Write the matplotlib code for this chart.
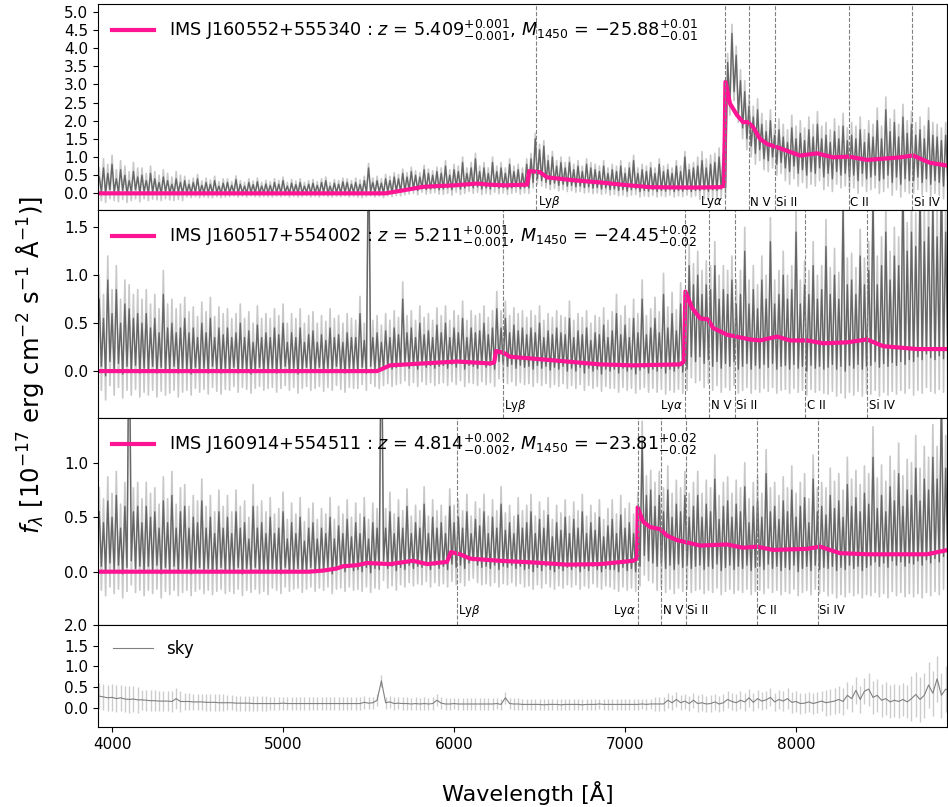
import matplotlib.pyplot as plt
import numpy as np

# binned wavelength grid (25 A steps), 200 points
wave = np.arange(3925, 8901, 25)

# ---- IMS J160552+555340 : upper / lower edge of the dark spectrum in each bin ----
hi_a = [0.45, 0.70, 0.55, 0.80, 0.40, 0.65, 0.50, 0.35, 0.60, 0.45,
        0.50, 0.35, 0.55, 0.40, 0.30, 0.45, 0.35, 0.25, 0.40, 0.30,
        0.35, 0.25, 0.30, 0.40, 0.22, 0.30, 0.25, 0.35, 0.20, 0.28,
        0.30, 0.22, 0.38, 0.25, 0.20, 0.30, 0.24, 0.32, 0.20, 0.26,
        0.22, 0.30, 0.25, 0.35, 0.20, 0.28, 0.24, 0.30, 0.20, 0.25,
        0.28, 0.22, 0.30, 0.35, 0.20, 0.28, 0.25, 0.32, 0.30, 0.25,
        0.30, 0.25, 0.35, 0.70, 0.30, 0.35, 0.28, 0.40, 0.35, 0.45,
        0.40, 0.55, 0.45, 0.60, 0.50, 0.45, 0.65, 0.55, 0.50, 0.60,
        0.55, 0.75, 0.50, 0.65, 0.60, 0.85, 0.55, 0.70, 0.95, 0.60,
        0.70, 0.55, 0.85, 0.60, 0.70, 0.55, 0.80, 0.60, 0.65, 0.55,
        0.80, 0.95, 1.50, 1.20, 1.30, 0.90, 1.00, 0.75, 0.85, 0.70,
        0.85, 0.65, 0.75, 0.60, 0.80, 0.70, 0.65, 0.60, 0.75, 0.55,
        0.65, 0.60, 0.75, 0.55, 0.70, 0.90, 0.55, 0.65, 0.60, 0.70,
        0.55, 0.80, 0.60, 0.65, 0.55, 0.75, 0.60, 1.00, 0.65, 0.70,
        0.75, 0.90, 0.70, 0.80, 0.85, 1.00, 1.10, 3.60, 4.40, 3.80,
        3.10, 2.80, 2.40, 2.10, 2.30, 1.90, 1.70, 2.00, 1.60, 1.75,
        1.55, 1.40, 1.80, 1.50, 1.65, 1.45, 1.75, 1.55, 1.90, 1.50,
        1.60, 1.40, 1.70, 1.50, 1.85, 1.45, 1.60, 1.50, 1.75, 1.40,
        1.65, 1.55, 2.00, 1.50, 2.30, 1.70, 1.95, 1.55, 2.10, 1.65,
        1.90, 1.60, 1.75, 1.50, 2.00, 1.60, 1.55, 1.45, 1.60, 1.40]
lo_a = [0.05, 0.00, 0.10, 0.05, 0.02, 0.08, 0.00, 0.05, 0.10, 0.02,
        0.05, 0.00, 0.04, 0.02, 0.00, 0.05, 0.02, 0.00, 0.03, 0.00,
        0.02, 0.00, 0.03, 0.00, 0.02, 0.01, 0.00, 0.03, 0.00, 0.02,
        0.01, 0.03, 0.00, 0.02, 0.00, 0.03, 0.01, 0.00, 0.02, 0.01,
        0.00, 0.02, 0.01, 0.03, 0.00, 0.02, 0.00, 0.01, 0.03, 0.00,
        0.02, 0.00, 0.03, 0.01, 0.00, 0.02, 0.01, 0.03, 0.00, 0.02,
        0.02, 0.00, 0.03, 0.05, 0.02, 0.04, 0.00, 0.05, 0.03, 0.06,
        0.05, 0.08, 0.10, 0.12, 0.08, 0.15, 0.10, 0.12, 0.14, 0.10,
        0.12, 0.15, 0.10, 0.18, 0.12, 0.15, 0.20, 0.15, 0.18, 0.12,
        0.15, 0.12, 0.18, 0.14, 0.16, 0.12, 0.15, 0.18, 0.13, 0.16,
        0.15, 0.30, 0.40, 0.35, 0.30, 0.25, 0.28, 0.22, 0.25, 0.20,
        0.22, 0.18, 0.20, 0.16, 0.18, 0.14, 0.16, 0.12, 0.15, 0.10,
        0.12, 0.08, 0.10, 0.06, 0.10, 0.12, 0.05, 0.08, 0.06, 0.10,
        0.05, 0.08, 0.06, 0.10, 0.05, 0.08, 0.06, 0.10, 0.05, 0.08,
        0.08, 0.10, 0.06, 0.10, 0.08, 0.12, 0.15, 2.40, 2.80, 2.20,
        1.80, 1.50, 1.30, 1.10, 1.20, 0.95, 0.90, 1.00, 0.80, 0.85,
        0.70, 0.60, 0.75, 0.55, 0.65, 0.50, 0.60, 0.55, 0.70, 0.45,
        0.55, 0.40, 0.60, 0.50, 0.55, 0.45, 0.50, 0.35, 0.55, 0.40,
        0.45, 0.50, 0.35, 0.40, 0.50, 0.30, 0.45, 0.25, 0.40, 0.35,
        0.35, 0.45, 0.30, 0.40, 0.25, 0.35, 0.30, 0.20, 0.30, 0.25]
err_a = [0.25, 0.20, 0.12, 0.10, 0.10, 0.10, 0.12, 0.12, 0.15, 0.15,
         0.15, 0.15, 0.15, 0.15, 0.25, 0.30, 0.35, 0.35, 0.35, 0.35]
model_a_wave = [3920, 5600, 5700, 5820, 5900, 6000, 6135, 6200, 6300, 6427, 6439, 6470,
                6503, 6544, 6700, 6854, 7000, 7146, 7400, 7556, 7579, 7587, 7614, 7655,
                7690, 7719, 7749, 7789, 7830, 7924, 8023, 8123, 8216, 8310, 8415, 8608,
                8684, 8784, 8889]
model_a_flux = [0.0, 0.0, 0.08, 0.18, 0.20, 0.22, 0.27, 0.24, 0.22, 0.24, 0.61, 0.60,
                0.58, 0.44, 0.36, 0.30, 0.23, 0.17, 0.16, 0.17, 0.21, 3.07, 2.47, 2.15,
                1.96, 1.96, 1.82, 1.50, 1.36, 1.21, 1.04, 1.10, 0.99, 1.01, 0.92, 0.99,
                1.04, 0.84, 0.76]
lines_a = [6480, 7585, 7723, 7877, 8310, 8679]

# ---- IMS J160517+554002 ----
hi_b = [0.75, 0.55, 0.95, 0.60, 0.85, 0.50, 0.70, 0.65, 0.55, 0.60,
        0.50, 0.60, 0.45, 0.55, 0.40, 0.80, 0.45, 0.50, 0.40, 0.45,
        0.55, 0.40, 0.45, 0.35, 0.50, 0.40, 0.55, 0.35, 0.45, 0.38,
        0.45, 0.35, 0.40, 0.50, 0.35, 0.42, 0.30, 0.48, 0.35, 0.40,
        0.35, 0.45, 0.38, 0.50, 0.30, 0.40, 0.35, 0.45, 0.30, 0.38,
        0.42, 0.30, 0.38, 0.32, 0.45, 0.35, 0.38, 0.30, 0.40, 0.35,
        0.35, 0.60, 0.32, 2.50, 0.35, 0.40, 0.30, 0.42, 0.35, 0.45,
        0.38, 0.75, 0.40, 0.45, 0.35, 0.50, 0.38, 0.42, 0.35, 0.48,
        0.40, 0.50, 0.35, 0.45, 0.40, 0.55, 0.35, 0.45, 0.40, 0.42,
        0.50, 0.38, 0.45, 0.65, 0.45, 0.55, 0.40, 0.48, 0.42, 0.45,
        0.38, 0.45, 0.40, 0.50, 0.35, 0.42, 0.38, 0.45, 0.40, 0.38,
        0.55, 0.35, 0.42, 0.38, 0.45, 0.32, 0.40, 0.38, 0.48, 0.35,
        0.42, 0.60, 0.38, 0.48, 0.35, 0.55, 0.40, 0.75, 0.38, 0.45,
        0.55, 0.40, 0.80, 0.45, 0.60, 0.42, 0.70, 0.55, 1.10, 0.90,
        1.00, 0.80, 0.90, 0.85, 1.10, 0.75, 0.85, 0.80, 0.95, 0.70,
        0.80, 1.25, 0.70, 0.85, 0.65, 0.95, 0.75, 1.35, 0.70, 0.80,
        1.00, 0.75, 0.85, 1.45, 0.70, 0.90, 0.80, 1.10, 0.75, 0.85,
        1.30, 0.80, 1.00, 0.75, 1.70, 0.90, 0.95, 0.80, 1.20, 0.90,
        1.05, 1.80, 0.90, 1.10, 1.45, 0.95, 1.20, 1.10, 2.00, 1.25,
        1.45, 1.30, 1.90, 1.35, 1.50, 1.75, 1.40, 2.10, 1.45, 1.60]
lo_b = [0.05, -0.05, 0.10, 0.00, 0.08, -0.03, 0.05, 0.00, 0.06, -0.02,
        0.03, 0.00, 0.05, -0.02, 0.04, 0.00, 0.02, 0.05, -0.02, 0.03,
        0.02, -0.03, 0.04, 0.00, 0.03, -0.02, 0.05, 0.01, -0.02, 0.03,
        0.00, 0.04, -0.02, 0.03, 0.01, -0.03, 0.02, 0.04, 0.00, 0.02,
        0.03, -0.02, 0.02, 0.05, 0.00, 0.03, -0.03, 0.02, 0.04, 0.00,
        0.02, 0.04, -0.01, 0.03, 0.00, 0.05, 0.01, -0.02, 0.03, 0.02,
        0.00, 0.04, -0.02, 0.05, 0.02, 0.00, 0.03, 0.05, 0.02, 0.04,
        0.05, 0.08, 0.03, 0.06, 0.02, 0.07, 0.04, 0.06, 0.03, 0.05,
        0.06, 0.03, 0.07, 0.04, 0.08, 0.02, 0.06, 0.05, 0.03, 0.07,
        0.04, 0.06, 0.02, 0.10, 0.08, 0.05, 0.07, 0.03, 0.06, 0.04,
        0.05, 0.02, 0.06, 0.03, 0.05, 0.01, 0.04, 0.02, 0.05, 0.00,
        0.03, 0.00, 0.04, -0.02, 0.03, 0.00, 0.02, -0.03, 0.02, 0.00,
        0.02, -0.02, 0.03, 0.00, 0.02, -0.03, 0.01, 0.03, -0.02, 0.02,
        0.00, 0.03, -0.02, 0.02, 0.00, 0.03, -0.01, 0.02, 0.15, 0.10,
        0.15, 0.08, 0.12, 0.05, 0.10, 0.03, 0.08, 0.05, 0.10, 0.02,
        0.05, 0.08, 0.02, 0.06, 0.03, 0.07, 0.04, 0.08, 0.02, 0.05,
        0.06, 0.02, 0.07, 0.03, 0.05, 0.00, 0.06, 0.03, 0.05, 0.02,
        0.04, 0.07, 0.02, 0.05, 0.00, 0.06, 0.03, 0.07, 0.02, 0.05,
        0.06, 0.10, 0.04, 0.08, 0.05, 0.09, 0.06, 0.10, 0.07, 0.12,
        0.10, 0.15, 0.12, 0.18, 0.14, 0.12, 0.16, 0.13, 0.15, 0.18]
err_b = [0.25, 0.25, 0.22, 0.20, 0.20, 0.20, 0.18, 0.18, 0.18, 0.18,
         0.18, 0.18, 0.20, 0.22, 0.25, 0.25, 0.25, 0.28, 0.30, 0.35]
model_b_wave = [3920, 5550, 5626, 5819, 6018, 6211, 6235, 6245, 6290, 6327, 6462, 6661,
                6854, 7047, 7322, 7345, 7353, 7392, 7439, 7485, 7515, 7596, 7731, 7789,
                7889, 7965, 8064, 8158, 8298, 8415, 8509, 8708, 8889]
model_b_flux = [0.0, 0.0, 0.06, 0.08, 0.10, 0.08, 0.09, 0.21, 0.19, 0.15, 0.13, 0.10,
                0.07, 0.06, 0.07, 0.10, 0.83, 0.66, 0.55, 0.54, 0.45, 0.38, 0.33, 0.32,
                0.36, 0.32, 0.32, 0.29, 0.30, 0.33, 0.26, 0.23, 0.23]
lines_b = [6284, 7353, 7493, 7641, 8054, 8417]

# ---- IMS J160914+554511 ----
hi_c = [0.55, 0.45, 0.65, 0.50, 0.70, 0.40, 0.60, 2.50, 0.55, 0.60,
        0.45, 0.60, 0.50, 0.55, 0.40, 0.65, 0.45, 0.70, 0.40, 0.55,
        0.60, 0.40, 0.50, 0.45, 0.65, 0.40, 0.50, 0.35, 0.55, 0.40,
        0.50, 0.35, 0.55, 0.40, 0.45, 0.30, 0.60, 0.40, 0.45, 0.35,
        0.50, 0.35, 0.40, 0.55, 0.30, 0.45, 0.35, 0.50, 0.28, 0.40,
        0.45, 0.30, 0.40, 0.35, 0.50, 0.30, 0.42, 0.35, 0.48, 0.32,
        0.45, 0.35, 0.50, 0.30, 0.45, 0.40, 2.50, 0.40, 0.55, 0.35,
        0.50, 0.40, 0.60, 0.35, 0.45, 0.40, 0.62, 0.35, 0.50, 0.40,
        0.45, 0.35, 0.60, 0.45, 0.50, 0.40, 0.55, 0.35, 0.48, 0.42,
        0.55, 0.35, 0.50, 0.40, 0.62, 0.38, 0.45, 0.35, 0.52, 0.40,
        0.45, 0.55, 0.35, 0.48, 0.40, 0.52, 0.32, 0.45, 0.38, 0.50,
        0.35, 0.48, 0.40, 0.55, 0.35, 0.45, 0.38, 0.50, 0.32, 0.42,
        0.48, 0.35, 0.52, 0.40, 0.45, 0.35, 0.55, 1.20, 0.70, 0.75,
        0.60, 0.70, 0.55, 0.75, 0.50, 0.62, 0.55, 0.70, 0.50, 0.60,
        0.70, 0.50, 0.62, 0.55, 0.85, 0.48, 0.60, 0.65, 0.50, 0.62,
        0.55, 0.78, 0.45, 0.60, 0.65, 0.50, 0.90, 0.55, 0.60, 0.48,
        0.65, 0.55, 0.75, 0.50, 0.60, 0.68, 0.45, 0.85, 0.55, 0.60,
        0.52, 0.70, 0.58, 0.65, 0.50, 0.80, 0.60, 0.68, 0.55, 0.72,
        0.62, 1.05, 0.58, 0.70, 0.55, 0.78, 0.65, 0.90, 0.60, 0.75,
        0.70, 0.95, 0.65, 0.85, 0.75, 1.05, 0.85, 1.60, 0.95, 1.80]
lo_c = [0.05, 0.00, 0.08, 0.02, 0.06, -0.02, 0.04, 0.10, 0.03, 0.05,
        0.00, 0.05, 0.02, 0.06, -0.02, 0.04, 0.01, 0.05, 0.00, 0.03,
        0.03, -0.02, 0.02, 0.04, 0.00, 0.03, -0.01, 0.02, 0.04, 0.00,
        0.02, 0.00, 0.04, -0.02, 0.03, 0.01, 0.04, 0.00, 0.02, -0.01,
        0.03, 0.01, -0.02, 0.04, 0.00, 0.02, 0.03, -0.01, 0.02, 0.04,
        0.00, 0.03, 0.01, 0.04, -0.02, 0.02, 0.03, 0.00, 0.04, 0.01,
        0.02, 0.00, 0.04, -0.01, 0.03, 0.02, 0.10, 0.03, 0.05, 0.01,
        0.04, 0.02, 0.06, 0.03, 0.05, 0.04, 0.07, 0.02, 0.06, 0.03,
        0.05, 0.02, 0.07, 0.04, 0.06, 0.03, 0.08, 0.10, 0.06, 0.04,
        0.05, 0.03, 0.06, 0.02, 0.05, 0.04, 0.06, 0.03, 0.05, 0.02,
        0.03, 0.00, 0.04, 0.01, 0.05, 0.02, 0.00, 0.03, 0.01, 0.04,
        0.02, 0.04, 0.00, 0.03, 0.01, 0.05, 0.02, 0.00, 0.03, 0.02,
        0.02, 0.00, 0.04, 0.01, 0.03, 0.00, 0.05, 0.15, 0.10, 0.08,
        0.05, 0.08, 0.03, 0.06, 0.02, 0.07, 0.04, 0.06, 0.03, 0.05,
        0.06, 0.02, 0.05, 0.03, 0.07, 0.01, 0.04, 0.06, 0.02, 0.05,
        0.03, 0.06, 0.01, 0.04, 0.05, 0.02, 0.07, 0.03, 0.05, 0.01,
        0.04, 0.02, 0.06, 0.00, 0.03, 0.05, 0.01, 0.06, 0.02, 0.04,
        0.03, 0.05, 0.01, 0.04, 0.02, 0.06, 0.03, 0.05, 0.01, 0.04,
        0.06, 0.09, 0.05, 0.08, 0.04, 0.10, 0.06, 0.09, 0.05, 0.08,
        0.07, 0.10, 0.06, 0.11, 0.08, 0.12, 0.09, 0.14, 0.10, 0.15]
err_c = [0.22, 0.22, 0.20, 0.20, 0.18, 0.18, 0.18, 0.16, 0.16, 0.16,
         0.16, 0.16, 0.18, 0.22, 0.22, 0.22, 0.22, 0.25, 0.28, 0.30]
model_c_wave = [3920, 5150, 5234, 5316, 5351, 5433, 5491, 5626, 5760, 5842, 5959, 5982,
                6035, 6094, 6269, 6462, 6661, 6854, 7047, 7070, 7074, 7105, 7146, 7205,
                7246, 7304, 7439, 7596, 7690, 7772, 7865, 8064, 8140, 8257, 8415, 8766,
                8889]
model_c_flux = [0.0, 0.0, 0.01, 0.03, 0.05, 0.06, 0.08, 0.07, 0.10, 0.07, 0.09, 0.18,
                0.16, 0.12, 0.10, 0.085, 0.065, 0.07, 0.10, 0.12, 0.59, 0.46, 0.41, 0.39,
                0.33, 0.29, 0.24, 0.25, 0.22, 0.23, 0.20, 0.21, 0.23, 0.17, 0.16, 0.16,
                0.20]
lines_c = [6016, 7074, 7212, 7357, 7770, 8127]

# ---- sky ----
sky = [0.28, 0.26, 0.24, 0.25, 0.22, 0.24, 0.21, 0.20, 0.21, 0.19,
       0.19, 0.18, 0.17, 0.17, 0.16, 0.16, 0.16, 0.15, 0.22, 0.15,
       0.15, 0.15, 0.14, 0.14, 0.14, 0.13, 0.13, 0.13, 0.12, 0.12,
       0.12, 0.12, 0.11, 0.11, 0.11, 0.11, 0.10, 0.10, 0.10, 0.10,
       0.10, 0.10, 0.10, 0.11, 0.10, 0.10, 0.10, 0.10, 0.10, 0.10,
       0.10, 0.10, 0.10, 0.10, 0.10, 0.10, 0.10, 0.10, 0.10, 0.10,
       0.10, 0.10, 0.13, 0.11, 0.12, 0.18, 0.65, 0.12, 0.14, 0.10,
       0.11, 0.10, 0.10, 0.09, 0.10, 0.09, 0.10, 0.09, 0.10, 0.18,
       0.11, 0.09, 0.09, 0.10, 0.09, 0.09, 0.09, 0.09, 0.09, 0.09,
       0.09, 0.09, 0.09, 0.10, 0.08, 0.24, 0.10, 0.09, 0.09, 0.08,
       0.08, 0.08, 0.08, 0.08, 0.07, 0.08, 0.08, 0.08, 0.07, 0.08,
       0.08, 0.08, 0.08, 0.07, 0.08, 0.08, 0.08, 0.09, 0.08, 0.08,
       0.08, 0.08, 0.08, 0.08, 0.08, 0.08, 0.08, 0.09, 0.08, 0.09,
       0.09, 0.09, 0.09, 0.18, 0.12, 0.20, 0.12, 0.16, 0.10, 0.18,
       0.10, 0.12, 0.09, 0.10, 0.14, 0.09, 0.12, 0.20, 0.15, 0.12,
       0.18, 0.14, 0.24, 0.13, 0.22, 0.16, 0.19, 0.25, 0.14, 0.20,
       0.16, 0.22, 0.13, 0.15, 0.10, 0.11, 0.14, 0.10, 0.13, 0.16,
       0.12, 0.14, 0.16, 0.20, 0.15, 0.30, 0.22, 0.42, 0.20, 0.40,
       0.45, 0.25, 0.30, 0.18, 0.22, 0.14, 0.18, 0.15, 0.20, 0.14,
       0.22, 0.32, 0.20, 0.30, 0.55, 0.35, 0.70, 0.30, 0.45, 0.40]
err_sky = [0.32, 0.25, 0.20, 0.18, 0.16, 0.15, 0.15, 0.15, 0.14, 0.14,
           0.13, 0.13, 0.13, 0.18, 0.20, 0.22, 0.25, 0.32, 0.40, 0.55]

line_names = ['Ly$\\beta$', 'Ly$\\alpha$', 'N V', 'Si II', 'C II', 'Si IV']
names = ['IMS J160552+555340 : $z$ = 5.409$^{+0.001}_{-0.001}$, $M_{1450}$ = $-$25.88$^{+0.01}_{-0.01}$',
         'IMS J160517+554002 : $z$ = 5.211$^{+0.001}_{-0.001}$, $M_{1450}$ = $-$24.45$^{+0.02}_{-0.02}$',
         'IMS J160914+554511 : $z$ = 4.814$^{+0.002}_{-0.002}$, $M_{1450}$ = $-$23.81$^{+0.02}_{-0.02}$']

spectra = [(hi_a, lo_a, err_a, model_a_wave, model_a_flux, lines_a),
           (hi_b, lo_b, err_b, model_b_wave, model_b_flux, lines_b),
           (hi_c, lo_c, err_c, model_c_wave, model_c_flux, lines_c)]
ylims = [(-0.46, 5.21), (-0.49, 1.68), (-0.49, 1.41)]
yticks = [np.arange(0, 5.01, 0.5), [0, 0.5, 1.0, 1.5], [0, 0.5, 1.0]]
label_y = [-0.25, -0.36, -0.36]

fig = plt.figure(figsize=(9.48, 8.07), dpi=100)
axes = fig.subplots(4, 1, sharex=True,
                    gridspec_kw=dict(height_ratios=[206, 208, 207, 102], hspace=0))
fig.subplots_adjust(left=0.1034, right=0.999, top=0.995, bottom=0.099)

for i in range(3):
    ax = axes[i]
    hi, lo, e, mw, mf, lines = spectra[i]
    hi = np.array(hi)
    lo = np.array(lo)
    e = np.repeat(e, 10)
    xs = np.column_stack([wave, wave + 12.5]).ravel()
    # light grey: noisier unbinned spectrum, dark grey: binned spectrum
    ax.plot(xs, np.column_stack([hi + e, lo - e]).ravel(), color='#c8c8c8', lw=1.2)
    ax.plot(xs, np.column_stack([hi, lo]).ravel(), color='#666666', lw=1.0)
    ax.plot(mw, mf, color='#ff1493', lw=3, label=names[i])
    for j in range(len(lines)):
        ax.axvline(lines[j], color='gray', ls='--', lw=0.8)
        if j == 1:
            ax.text(lines[j] - 12, label_y[i], line_names[j], ha='right', va='center', fontsize=8.5)
        else:
            ax.text(lines[j] + 8, label_y[i], line_names[j], ha='left', va='center', fontsize=8.5)
    ax.set_ylim(ylims[i])
    ax.set_yticks(yticks[i])
    ax.tick_params(axis='x', bottom=False)
    ax.tick_params(axis='y', labelsize=11)
    ax.legend(loc='upper left', frameon=False, fontsize=12.7, handlelength=2.4,
              borderaxespad=0.4)

ax = axes[3]
s = np.array(sky)
es = np.repeat(err_sky, 10)
ax.vlines(wave, s - es, s + es, color='#cccccc', lw=1)
ax.plot(wave, s, color='gray', lw=0.8, label='sky')
ax.set_ylim(-0.47, 2.0)
ax.set_yticks([0, 0.5, 1.0, 1.5, 2.0])
ax.tick_params(labelsize=11)
ax.legend(loc='upper left', frameon=False, fontsize=12, handlelength=2.4)
ax.set_xlim(3918, 8883)
ax.set_xticks([4000, 5000, 6000, 7000, 8000])

fig.text(0.032, 0.548, '$f_\\lambda$ [10$^{-17}$ erg cm$^{-2}$ s$^{-1}$ Å$^{-1}$)]',
         rotation=90, ha='center', va='center', fontsize=17.5)
fig.text(0.557, 0.017, 'Wavelength [Å]', ha='center', va='center', fontsize=16)

plt.savefig('out.png')
